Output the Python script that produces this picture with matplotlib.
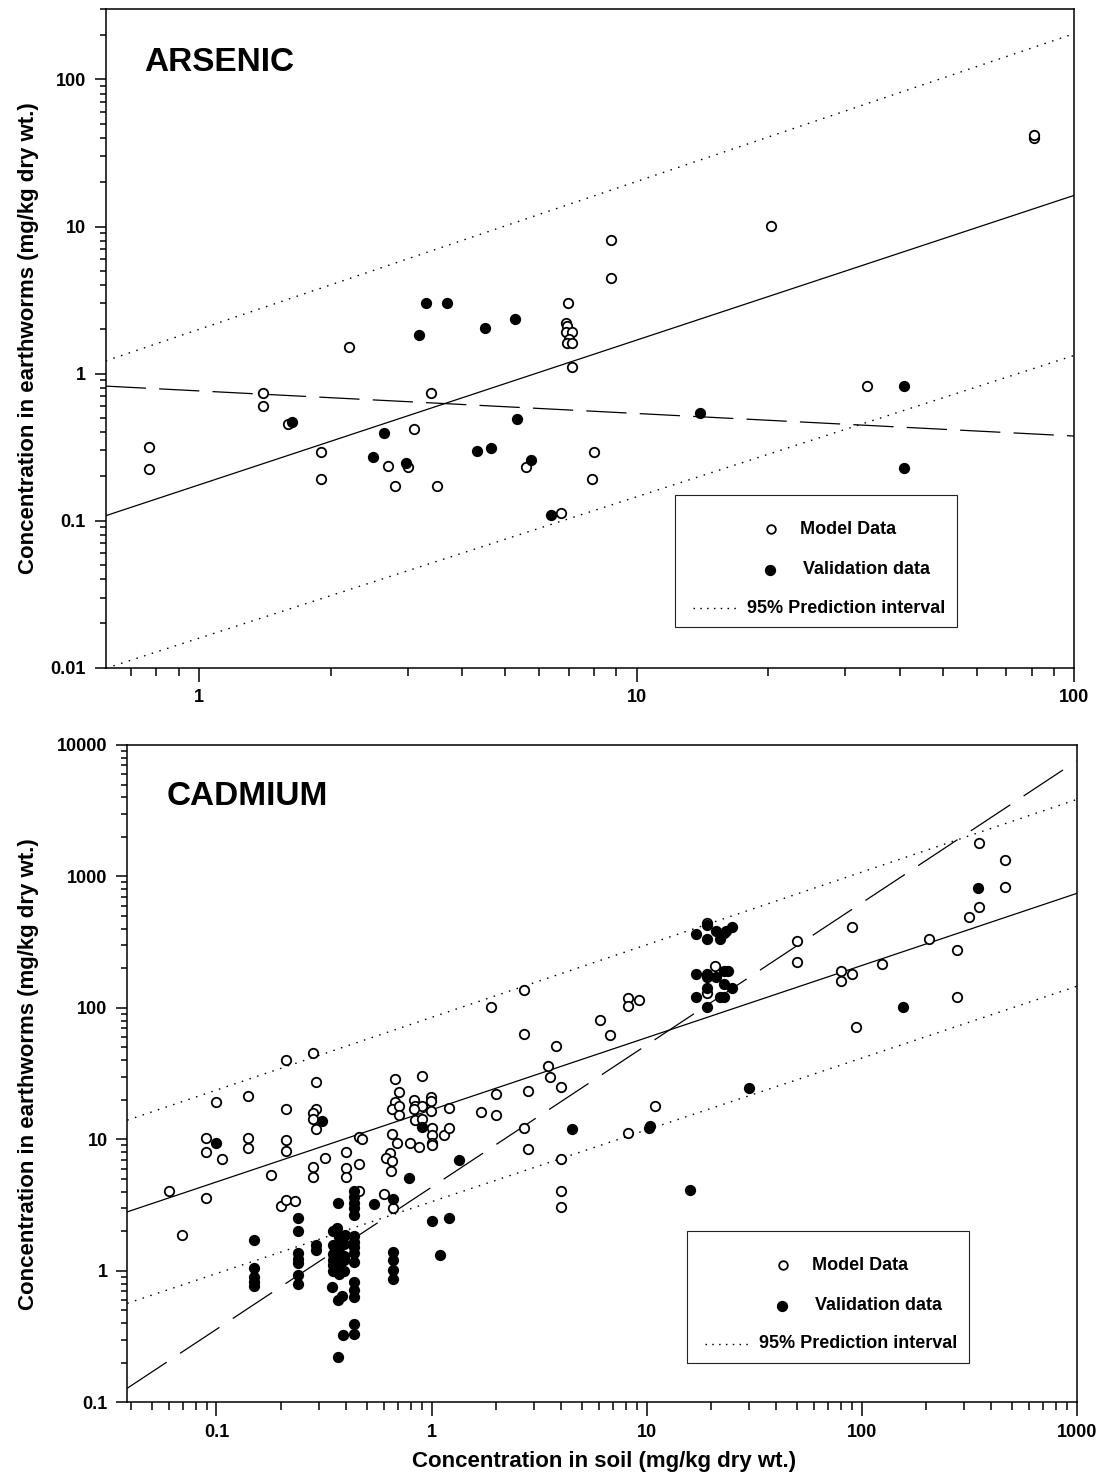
import numpy as np
import matplotlib
matplotlib.use('Agg')
import matplotlib.pyplot as plt
from matplotlib import ticker
from matplotlib.patches import Rectangle
from matplotlib.lines import Line2D

#----------------------------------
# ARSENIC (panel superior)
as_mod_x = [0.77, 0.77, 1.40, 1.40, 1.60, 1.90, 1.90, 2.20, 2.70, 2.80, 3.00, 3.10, 3.39, 3.50,
            5.59, 6.71, 6.96, 6.90, 6.92, 6.90, 7.14, 7.02, 6.95, 7.14, 7.13, 7.99, 7.91,
            8.73, 8.73, 20.3, 80.9, 80.9, 33.6]
as_mod_y = [0.315, 0.223, 0.737, 0.598, 0.456, 0.293, 0.192, 1.52, 0.234, 0.173, 0.232, 0.418, 0.737, 0.173,
            0.232, 0.112, 3.0, 2.21, 2.10, 1.92, 1.92, 1.71, 1.62, 1.62, 1.11, 0.293, 0.192,
            8.08, 4.44, 10.1, 40.0, 42.0, 0.82]
as_val_x = [1.63, 2.65, 2.50, 2.98, 3.19, 3.30, 3.70, 4.33, 4.64, 4.50, 5.28, 5.32, 5.75, 6.37,
            14.0, 40.8, 40.8]
as_val_y = [0.466, 0.392, 0.272, 0.246, 1.82, 3.03, 3.03, 0.299, 0.312, 2.04, 2.34, 0.49, 0.257, 0.110,
            0.54, 0.82, 0.228]

# lineas (extremos)
as_xl = [0.613, 100.]
as_fit = [0.108, 16.3]
as_up = [1.22, 205.]
as_lo = [0.0099, 1.33]
as_dash = [0.822, 0.376]

#----------------------------------
# CADMIUM (panel inferior)
cd_mod_x = [0.060, 0.069, 0.0898, 0.0898, 0.0898, 0.0996, 0.106, 0.140, 0.140, 0.140, 0.1795, 0.200,
            0.210, 0.210, 0.210, 0.210, 0.210, 0.231, 0.280, 0.290, 0.290, 0.280, 0.280, 0.290,
            0.280, 0.280, 0.320, 0.399, 0.399, 0.399, 0.461, 0.474, 0.461, 0.461, 0.600, 0.659,
            0.652, 0.688, 0.640, 0.617, 0.654, 0.649, 0.677, 0.703, 0.677, 0.654, 0.703, 0.703,
            0.899, 0.827, 0.837, 0.908, 0.827, 0.996, 0.99, 0.99, 0.839, 0.899, 1.0, 1.0, 1.0, 1.01,
            0.798, 0.876, 1.14, 1.21, 1.21, 1.69, 1.90, 1.99, 1.99, 2.70, 2.80, 2.80,
            3.49, 3.79, 3.55, 3.99, 3.99, 3.99, 3.99, 2.69, 2.69, 6.07, 6.75, 8.21, 8.21, 9.26,
            8.21, 10.97, 19.0, 20.8, 19.0, 50.0, 50.0, 89.8, 79.9, 79.9, 89.8, 94.1, 124., 206.,
            279., 279., 316., 350., 350., 466., 466.]
cd_mod_y = [4.04, 1.88, 10.2, 8.05, 3.59, 19.2, 7.08, 21.3, 10.2, 8.63, 5.35, 3.11,
            40.1, 17.0, 9.88, 8.19, 3.45, 3.41, 45.6, 27.3, 17.0, 15.8, 14.4, 11.9,
            6.12, 5.14, 7.25, 8.05, 6.08, 5.14, 10.5, 10.0, 6.52, 4.04, 3.82, 3.02,
            11.0, 9.33, 7.83, 7.25, 6.84, 5.71, 28.6, 23.0, 19.3, 17.0, 17.9, 15.3,
            30.3, 19.9, 18.1, 17.9, 17.1, 21.1, 19.7, 16.4, 14.0, 14.2, 12.1, 10.8, 9.33, 9.1,
            9.33, 8.79, 10.8, 17.2, 12.2, 16.2, 102., 22.1, 15.2, 12.1, 8.4, 23.3,
            36.3, 51.5, 29.9, 25.1, 7.08, 4.04, 3.04, 137., 63., 80.7, 61.8, 119., 104., 115.,
            11.1, 18.1, 439., 208., 131., 322., 222., 414., 191., 161., 181., 71.1, 216., 334.,
            274., 121., 488., 587., 1803., 1330., 829.]
cd_val_x = [0.0996, 0.311, 0.899, 1.335, 0.782, 0.659, 0.541, 0.369,
            0.436, 0.436, 0.436, 0.436, 0.436, 0.239, 0.239,
            0.1496, 0.1496, 0.1496, 0.1496, 0.1496, 0.239, 0.239, 0.239, 0.239, 0.239, 0.290, 0.290,
            0.347, 0.363, 0.395, 0.347, 0.37, 0.37, 0.35, 0.37, 0.39, 0.35, 0.37, 0.39, 0.35, 0.37,
            0.35, 0.39, 0.37, 0.345, 0.366, 0.385, 0.388, 0.366, 0.39,
            0.436, 0.436, 0.436, 0.436, 0.436, 0.436, 0.436, 0.436, 0.436, 0.436,
            0.66, 0.66, 0.66, 0.66, 1.0, 1.2, 1.10, 4.49, 10.4, 10.3, 15.9, 30.0, 156., 346.,
            16.98, 19.0, 19.0, 21.0, 21.9, 22.9, 23.5, 25.0, 16.98, 19.0, 19.0, 21.0, 22.9, 23.9,
            22.9, 25.0, 19.0, 16.98, 21.9, 22.9, 19.0]
cd_val_y = [9.33, 13.8, 12.5, 6.96, 5.05, 3.50, 3.22, 3.28,
            4.06, 3.66, 3.30, 2.99, 2.66, 2.51, 2.02,
            1.71, 1.06, 0.893, 0.826, 0.766, 1.36, 1.24, 1.14, 0.93, 0.79, 1.57, 1.44,
            2.02, 2.1, 1.87, 1.57, 1.8, 1.5, 1.35, 1.3, 1.3, 1.2, 1.15, 1.2, 1.1, 1.05,
            1.0, 1.0, 0.95, 0.75, 0.60, 0.64, 0.325, 0.222, 1.6,
            1.84, 1.66, 1.52, 1.36, 1.17, 0.826, 0.714, 0.635, 0.394, 0.331,
            1.40, 1.21, 1.01, 0.86, 2.40, 2.52, 1.33, 12.0, 12.6, 12.2, 4.1, 24.5, 101., 819.,
            364., 332., 431., 386., 332., 369., 386., 414., 181., 181., 171., 171., 191., 191.,
            151., 141., 141., 121., 121., 121., 101.]

cd_xl = [0.0385, 1000.]
cd_fit = [2.81, 743.]
cd_up = [14.0, 3850.]
cd_lo = [0.566, 146.]
cd_dash = [0.128, 7570.]

#--------------------------------
plt.rcParams['font.family'] = ['Liberation Sans', 'DejaVu Sans']
plt.rcParams['font.weight'] = 'bold'
plt.rcParams['axes.labelweight'] = 'bold'
plt.rcParams['lines.scale_dashes'] = False

W, H = 1102., 1478.
fig = plt.figure(figsize=(W/100., H/100.), dpi=100)
fig.patch.set_facecolor('white')

ax1 = fig.add_axes((105.7/W, 1-667.7/H, 968.6/W, 658.4/H))
ax2 = fig.add_axes((127.3/W, 1-1402.3/H, 949.4/W, 657.3/H))

punteado = (0, (1.1, 4.7))
pm = dict(linestyle='none', marker='o', ms=6.8, mew=1.3, mec='black', zorder=5)


def panel(ax, mx, my, vx, vy, xl, fit, up, lo, dash, dpat):
    ax.plot(xl, fit, '-', color='black', lw=0.9)
    ax.plot(xl, up, color='black', lw=1.0, linestyle=punteado)
    ax.plot(xl, lo, color='black', lw=1.0, linestyle=punteado)
    ax.plot(xl, dash, color='black', lw=0.9, linestyle=(0, dpat))
    ax.plot(mx, my, mfc='white', **pm)
    ax.plot(vx, vy, mfc='black', **pm)
    ax.set_xscale('log')
    ax.set_yscale('log')
    for s in ax.spines.values():
        s.set_linewidth(1.1)
    ax.tick_params(axis='both', which='both', direction='out', width=1.1, labelsize=13,
                   top=False, right=False)
    ax.tick_params(axis='x', which='major', length=10, pad=5.5)
    ax.tick_params(axis='x', which='minor', length=5.8)
    ax.tick_params(axis='y', which='major', length=7.7, pad=6.5)
    ax.tick_params(axis='y', which='minor', length=4.1)


def leyenda(x0, y0):
    # esquina superior izquierda de la caja en pixeles
    f = lambda x, y: ((x0+x)/W, 1-(y0+y)/H)
    fig.add_artist(Rectangle(f(0, 131.7), 281.7/W, 131.7/H, transform=fig.transFigure,
                             fill=False, lw=0.8, ec='#222222'))
    fig.add_artist(Line2D(*zip(f(96, 34.3)), marker='o', mfc='white', mec='black', ms=6.2,
                          mew=1.3, transform=fig.transFigure))
    fig.add_artist(Line2D(*zip(f(95, 75)), marker='o', mfc='black', mec='black', ms=6.8,
                          mew=1.3, transform=fig.transFigure))
    a, b = f(18, 113), f(62, 113)
    fig.add_artist(Line2D([a[0], b[0]], [a[1], b[1]], color='black', lw=1.0,
                          linestyle=(0, (1.1, 3.8)), transform=fig.transFigure))
    fig.text(*f(125, 34.3), 'Model Data', fontsize=13, va='center')
    fig.text(*f(128, 75), 'Validation data', fontsize=13, va='center')
    fig.text(*f(72, 113), '95% Prediction interval', fontsize=13, va='center')


# Arsenico
panel(ax1, as_mod_x, as_mod_y, as_val_x, as_val_y, as_xl, as_fit, as_up, as_lo, as_dash, (29, 9.5))
ax1.set_xlim(0.613, 100)
ax1.set_ylim(0.01, 300)
ax1.set_xticks([1, 10, 100], ['1', '10', '100'])
ax1.set_yticks([0.01, 0.1, 1, 10, 100], ['0.01', '0.1', '1', '10', '100'])
ax1.text(0.0395, 0.9067, 'ARSENIC', transform=ax1.transAxes, fontsize=24, va='baseline')
ax1.set_ylabel('Concentration in earthworms (mg/kg dry wt.)', fontsize=16, fontweight='bold')
ax1.yaxis.set_label_coords(-0.069, 0.5)

# Cadmio
panel(ax2, cd_mod_x, cd_mod_y, cd_val_x, cd_val_y, cd_xl, cd_fit, cd_up, cd_lo, cd_dash, (34, 11.5))
ax2.set_xlim(0.0385, 1000)
ax2.set_ylim(0.1, 10000)
ax2.set_xticks([0.1, 1, 10, 100, 1000], ['0.1', '1', '10', '100', '1000'])
ax2.set_yticks([0.1, 1, 10, 100, 1000, 10000], ['0.1', '1', '10', '100', '1000', '10000'])
ax2.text(0.0415, 0.9087, 'CADMIUM', transform=ax2.transAxes, fontsize=24, va='baseline')
ax2.set_ylabel('Concentration in earthworms (mg/kg dry wt.)', fontsize=16, fontweight='bold')
ax2.yaxis.set_label_coords(-0.093, 0.5)
ax2.set_xlabel('Concentration in soil (mg/kg dry wt.)', fontsize=16, fontweight='bold')
ax2.xaxis.set_label_coords(0.502, -0.074)

for ax in (ax1, ax2):
    ax.xaxis.set_minor_locator(ticker.LogLocator(base=10, subs=np.arange(2, 10), numticks=20))
    ax.yaxis.set_minor_locator(ticker.LogLocator(base=10, subs=np.arange(2, 10), numticks=20))
    ax.xaxis.set_minor_formatter(ticker.NullFormatter())
    ax.yaxis.set_minor_formatter(ticker.NullFormatter())

leyenda(675, 495)
leyenda(687.3, 1231)

fig.savefig('out.png', dpi=100)
print('Acabado.')
